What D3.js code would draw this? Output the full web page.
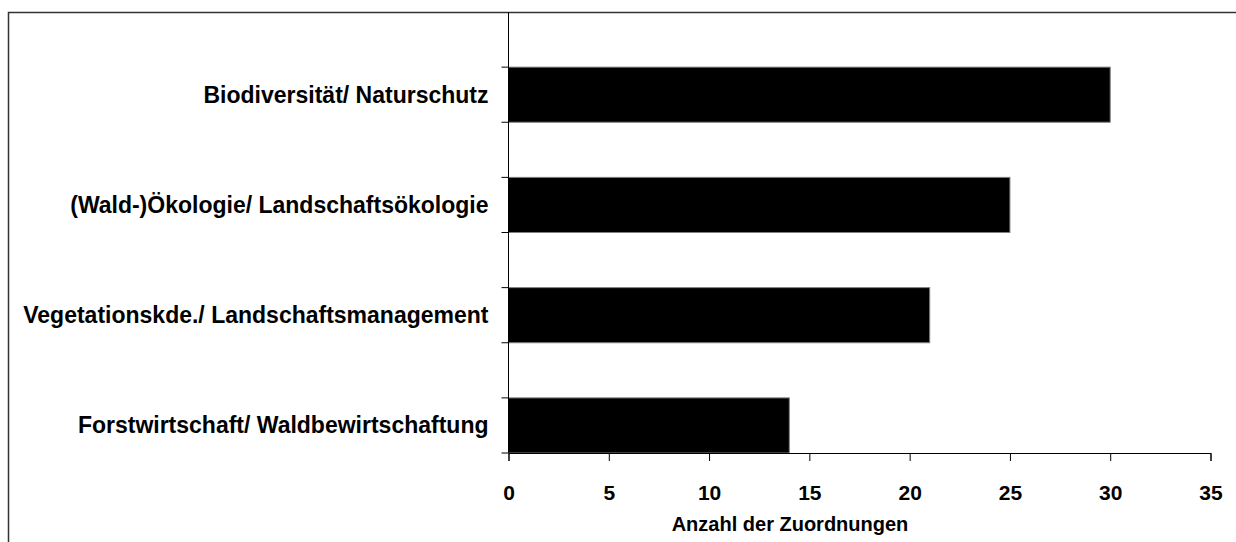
<!DOCTYPE html>
<html>
<head>
<meta charset="utf-8">
<script src="https://cdnjs.cloudflare.com/ajax/libs/d3/7.8.5/d3.min.js"></script>
<style>
  body { margin: 0; background: #fff; }
  svg { display: block; }
  text { font-family: "Liberation Sans", Arial, sans-serif; font-weight: bold; fill: #000; }
</style>
</head>
<body>
<div id="display"><svg width="1236" height="542"></svg></div>
<script>
// data
var categories = ["Biodiversität/ Naturschutz",
                  "(Wald-)Ökologie/ Landschaftsökologie",
                  "Vegetationskde./ Landschaftsmanagement",
                  "Forstwirtschaft/ Waldbewirtschaftung"];
var counts = [30, 25, 21, 14];
var xTicks = [0, 5, 10, 15, 20, 25, 30, 35];
var xTitle = "Anzahl der Zuordnungen";

var svg = d3.select("#display svg");

// outer frame (runs past right and bottom edge)
svg.append("rect")
    .attr("x", 8.5).attr("y", 12.5)
    .attr("width", 1300).attr("height", 600)
    .attr("fill", "none").attr("stroke", "#333").attr("stroke-width", 1.5);

var pLeft = 508.5, pRight = 1210.5, pTop = 12, pBottom = 453;

var x = d3.scaleLinear().domain([0, 35]).range([pLeft, pRight]);

// every category gets an empty slot above it, bars fill the lower slot
var slots = [];
categories.forEach(function(c) { slots.push("gap " + c); slots.push(c); });
var y = d3.scaleBand().domain(slots).range([pTop, pBottom]).padding(0);

svg.selectAll("rect.bar").data(categories).enter().append("rect")
    .attr("class", "bar")
    .attr("x", x(0))
    .attr("y", function(d) { return y(d); })
    .attr("width", function(d, i) { return x(counts[i]) - x(0); })
    .attr("height", y.bandwidth())
    .attr("fill", "#000").attr("stroke", "#808080").attr("stroke-width", 1);

// y axis line and ticks at slot edges
svg.append("line")
    .attr("x1", pLeft).attr("x2", pLeft).attr("y1", pTop).attr("y2", pBottom)
    .attr("stroke", "#000").attr("stroke-width", 1);
svg.selectAll("line.ytick").data(slots.slice(1).concat(["end"])).enter().append("line")
    .attr("class", "ytick")
    .attr("x1", pLeft - 7).attr("x2", pLeft)
    .attr("y1", function(d) { return d == "end" ? pBottom : y(d); })
    .attr("y2", function(d) { return d == "end" ? pBottom : y(d); })
    .attr("stroke", "#000").attr("stroke-width", 1);

svg.selectAll("text.cat").data(categories).enter().append("text")
    .attr("class", "cat")
    .attr("x", pLeft - 20)
    .attr("y", function(d) { return y(d) + y.bandwidth() / 2; })
    .attr("text-anchor", "end").attr("dy", "0.35em")
    .attr("font-size", "23px")
    .text(function(d) { return d; });

// x axis
var xAxis = d3.axisBottom(x).tickValues(xTicks).tickSize(8).tickPadding(24);
var gx = svg.append("g").attr("transform", "translate(0," + pBottom + ")").call(xAxis);
gx.select(".domain").attr("stroke", "#000");
gx.selectAll(".tick line").attr("stroke", "#000");
gx.selectAll(".tick text")
    .attr("font-size", "21px")
    .style("font-family", '"Liberation Sans", Arial, sans-serif')
    .style("font-weight", "bold");

svg.append("text")
    .attr("x", 790).attr("y", 531)
    .attr("text-anchor", "middle")
    .attr("font-size", "20px")
    .text(xTitle);
</script>
</body>
</html>
